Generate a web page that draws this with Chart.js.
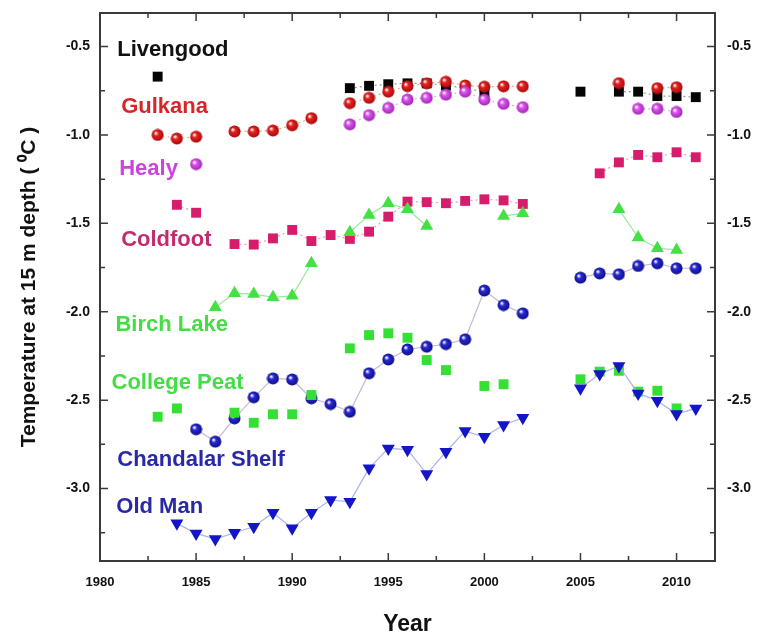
<!DOCTYPE html>
<html lang="en">
<head>
  <title>Permafrost temperature</title>
  <meta charset="UTF-8">
  <script src="https://cdn.jsdelivr.net/npm/chart.js"></script>
  <style>
    body { margin: 0; background: #fff; }
  </style>
</head>
<body>
  <canvas id="tempChart" width="767" height="640"></canvas>

  <script>
    // tick labels
    const yearTicks = [1980, 1985, 1990, 1995, 2000, 2005, 2010];
    const tempTicks = [-3.0, -2.5, -2.0, -1.5, -1.0, -0.5];

    // station data (years + temperature at 15 m)
    const livengoodYears = [1983, 1993, 1994, 1995, 1996, 1997, 1998, 1999, 2000, 2005, 2007, 2008, 2009, 2010, 2011];
    const livengoodTemps = [-0.67, -0.735, -0.722, -0.713, -0.708, -0.708, -0.72, -0.735, -0.758, -0.755, -0.755, -0.755, -0.78, -0.78, -0.786];

    const gulkanaYears = [1983, 1984, 1985, 1987, 1988, 1989, 1990, 1991, 1993, 1994, 1995, 1996, 1997, 1998, 1999, 2000, 2001, 2002, 2007, 2009, 2010];
    const gulkanaTemps = [-1.0, -1.02, -1.01, -0.98, -0.98, -0.975, -0.945, -0.905, -0.82, -0.79, -0.755, -0.724, -0.708, -0.699, -0.72, -0.727, -0.725, -0.725, -0.707, -0.735, -0.73];

    const healyYears = [1985, 1993, 1994, 1995, 1996, 1997, 1998, 1999, 2000, 2001, 2002, 2008, 2009, 2010];
    const healyTemps = [-1.165, -0.94, -0.888, -0.847, -0.8, -0.79, -0.772, -0.755, -0.8, -0.824, -0.843, -0.852, -0.852, -0.87];

    const coldfootYears = [1984, 1985, 1987, 1988, 1989, 1990, 1991, 1992, 1993, 1994, 1995, 1996, 1997, 1998, 1999, 2000, 2001, 2002, 2006, 2007, 2008, 2009, 2010, 2011];
    const coldfootTemps = [-1.395, -1.44, -1.617, -1.62, -1.585, -1.537, -1.6, -1.566, -1.588, -1.547, -1.462, -1.377, -1.38, -1.386, -1.373, -1.364, -1.37, -1.39, -1.217, -1.155, -1.113, -1.126, -1.098, -1.126];

    const birchYears = [1986, 1987, 1988, 1989, 1990, 1991, 1993, 1994, 1995, 1996, 1997, 2001, 2002, 2007, 2008, 2009, 2010];
    const birchTemps = [-1.975, -1.896, -1.9, -1.918, -1.91, -1.726, -1.55, -1.452, -1.386, -1.42, -1.515, -1.458, -1.443, -1.42, -1.58, -1.641, -1.65];

    const collegeYears = [1983, 1984, 1987, 1988, 1989, 1990, 1991, 1993, 1994, 1995, 1996, 1997, 1998, 2000, 2001, 2005, 2006, 2007, 2008, 2009, 2010];
    const collegeTemps = [-2.594, -2.547, -2.571, -2.628, -2.58, -2.58, -2.471, -2.207, -2.132, -2.122, -2.147, -2.273, -2.33, -2.42, -2.41, -2.382, -2.339, -2.334, -2.452, -2.447, -2.547];

    const chandalarYears = [1985, 1986, 1987, 1988, 1989, 1990, 1991, 1992, 1993, 1994, 1995, 1996, 1997, 1998, 1999, 2000, 2001, 2002, 2005, 2006, 2007, 2008, 2009, 2010, 2011];
    const chandalarTemps = [-2.665, -2.735, -2.603, -2.484, -2.377, -2.383, -2.49, -2.522, -2.566, -2.348, -2.27, -2.213, -2.198, -2.183, -2.156, -1.88, -1.962, -2.009, -1.807, -1.783, -1.788, -1.741, -1.726, -1.754, -1.754];

    const oldManYears = [1984, 1985, 1986, 1987, 1988, 1989, 1990, 1991, 1992, 1993, 1994, 1995, 1996, 1997, 1998, 1999, 2000, 2001, 2002, 2005, 2006, 2007, 2008, 2009, 2010, 2011];
    const oldManTemps = [-3.197, -3.254, -3.286, -3.25, -3.216, -3.137, -3.225, -3.137, -3.065, -3.075, -2.886, -2.773, -2.78, -2.918, -2.792, -2.675, -2.707, -2.641, -2.6, -2.433, -2.352, -2.307, -2.462, -2.503, -2.579, -2.547];

    function pairs(years, temps) {
      return years.map((yr, i) => ({ x: yr, y: temps[i] }));
    }

    // shaded ball marker like the original plot
    function ball(color, dark) {
      const c = document.createElement('canvas');
      c.width = 13; c.height = 13;
      const g = c.getContext('2d');
      const grad = g.createRadialGradient(4.5, 4.5, 0.5, 6.5, 6.5, 6.5);
      grad.addColorStop(0, '#ffffff');
      grad.addColorStop(0.3, color);
      grad.addColorStop(1, dark);
      g.fillStyle = grad;
      g.beginPath();
      g.arc(6.5, 6.5, 6, 0, Math.PI * 2);
      g.fill();
      return c;
    }

    function series(label, years, temps, marker, color, line, dashed, order) {
      return {
        label: label,
        data: pairs(years, temps),
        pointStyle: marker.style,
        pointRadius: marker.radius,
        pointRotation: marker.rotation || 0,
        pointBackgroundColor: color,
        pointBorderColor: color,
        pointBorderWidth: 0,
        borderColor: line || 'transparent',
        borderWidth: 1.2,
        borderDash: dashed ? [2, 3] : [],
        showLine: !!line,
        spanGaps: 1.5,
        order: order
      };
    }

    const square = { style: 'rect', radius: 7 };
    const upTri = { style: 'triangle', radius: 7.5 };
    const downTri = { style: 'triangle', radius: 7.5, rotation: 180 };

    const datasets = [
      series('Livengood', livengoodYears, livengoodTemps, square, '#050505', '#999999', true, 8),
      series('Gulkana', gulkanaYears, gulkanaTemps, { style: ball('#e82222', '#a00808'), radius: 6 }, '#e02020', '#f0a878', true, 6),
      series('Healy', healyYears, healyTemps, { style: ball('#dd55ee', '#9a20b0'), radius: 6 }, '#d050e8', '#e6a8f0', true, 5),
      series('Coldfoot', coldfootYears, coldfootTemps, square, '#d81c6c', '#e89ab8', true, 7),
      series('Birch Lake', birchYears, birchTemps, upTri, '#44e044', '#9ae69a', false, 3),
      series('College Peat', collegeYears, collegeTemps, square, '#33e033', null, false, 2),
      series('Chandalar Shelf', chandalarYears, chandalarTemps, { style: ball('#2a2ad8', '#0a0a80'), radius: 6 }, '#1818c0', '#c6b8d8', false, 4),
      series('Old Man', oldManYears, oldManTemps, downTri, '#1414c8', '#a8b4e8', false, 1)
    ];

    // station names written inside the plot (year, temperature of left/middle of text)
    const stationLabels = [
      { text: 'Livengood', x: 1980.9, y: -0.52, color: '#111111' },
      { text: 'Gulkana', x: 1981.1, y: -0.84, color: '#d42828' },
      { text: 'Healy', x: 1981.0, y: -1.19, color: '#cc44dd' },
      { text: 'Coldfoot', x: 1981.1, y: -1.595, color: '#c22c6c' },
      { text: 'Birch Lake', x: 1980.8, y: -2.075, color: '#44dd44' },
      { text: 'College Peat', x: 1980.6, y: -2.403, color: '#44dd44' },
      { text: 'Chandalar Shelf', x: 1980.9, y: -2.84, color: '#2828a8' },
      { text: 'Old Man', x: 1980.85, y: -3.105, color: '#2828a8' }
    ];

    // frame, inward ticks and the station names
    const framePlugin = {
      id: 'frame',
      afterDraw(chart) {
        const ctx = chart.ctx;
        const a = chart.chartArea;
        const xs = chart.scales.x, ys = chart.scales.y;
        ctx.save();
        ctx.strokeStyle = '#3a3a3a';
        ctx.lineWidth = 2;
        ctx.strokeRect(a.left, a.top, a.right - a.left, a.bottom - a.top);
        ctx.lineWidth = 1.5;
        ctx.beginPath();
        for (let v = 1980; v <= 2012; v += 2.5) {
          const px = xs.getPixelForValue(v);
          const len = (v % 5 === 0) ? 8 : 5;
          ctx.moveTo(px, a.bottom); ctx.lineTo(px, a.bottom - len);
          ctx.moveTo(px, a.top); ctx.lineTo(px, a.top + len);
        }
        for (let v = -3.25; v <= -0.5; v += 0.25) {
          const py = ys.getPixelForValue(v);
          const len = (Math.abs(v * 2 - Math.round(v * 2)) < 1e-6) ? 8 : 5;
          ctx.moveTo(a.left, py); ctx.lineTo(a.left + len, py);
          ctx.moveTo(a.right, py); ctx.lineTo(a.right - len, py);
        }
        ctx.stroke();

        ctx.font = 'bold 22px "Liberation Sans", Arial, sans-serif';
        ctx.textAlign = 'left';
        ctx.textBaseline = 'middle';
        stationLabels.forEach(l => {
          ctx.fillStyle = l.color;
          ctx.fillText(l.text, xs.getPixelForValue(l.x), ys.getPixelForValue(l.y));
        });
        ctx.restore();
      }
    };

    const tickFont = { family: '"Liberation Sans", Arial, sans-serif', size: 13, weight: 'bold' };
    const yTickFont = { family: '"Liberation Sans", Arial, sans-serif', size: 14, weight: 'bold' };
    const yMin = -3.41, yMax = -0.31;

    // fixed axis boxes so the plot frame lands where the original one is
    function fixBox(w, h) {
      return s => {
        if (w) s.width = w;
        if (h) s.height = h;
        s.paddingTop = 0; s.paddingBottom = 0;
        s.paddingLeft = 0; s.paddingRight = 0;
      };
    }

    new Chart(document.getElementById('tempChart'), {
      type: 'line',
      data: { datasets: datasets },
      plugins: [framePlugin],
      options: {
        responsive: false,
        animation: false,
        layout: { padding: { top: 13, left: 0, right: 0, bottom: 0 } },
        plugins: {
          legend: { display: false },
          tooltip: { enabled: false }
        },
        scales: {
          x: {
            type: 'linear',
            min: 1980,
            max: 2012,
            grid: { display: false },
            border: { display: false },
            afterBuildTicks: s => { s.ticks = yearTicks.map(v => ({ value: v })); },
            afterFit: fixBox(0, 79),
            ticks: { font: tickFont, color: '#111', padding: 6, maxRotation: 0, callback: v => String(v) },
            title: {
              display: true,
              text: 'Year',
              color: '#111',
              font: { family: '"Liberation Sans", Arial, sans-serif', size: 23, weight: 'bold' },
              padding: { top: 0, bottom: 2 }
            }
          },
          y: {
            type: 'linear',
            position: 'left',
            min: yMin,
            max: yMax,
            grid: { display: false },
            border: { display: false },
            afterBuildTicks: s => { s.ticks = tempTicks.map(v => ({ value: v })); },
            afterFit: fixBox(100, 0),
            ticks: { font: yTickFont, color: '#111', padding: 2, callback: v => v.toFixed(1) },
            title: {
              display: true,
              text: 'Temperature at 15 m depth ( \u2070C )',
              color: '#111',
              font: { family: '"Liberation Sans", Arial, sans-serif', size: 21, weight: 'bold' },
              padding: { top: 17, bottom: 0 }
            }
          },
          y2: {
            type: 'linear',
            position: 'right',
            min: yMin,
            max: yMax,
            grid: { display: false },
            border: { display: false },
            afterBuildTicks: s => { s.ticks = tempTicks.map(v => ({ value: v })); },
            afterFit: fixBox(52, 0),
            ticks: { font: yTickFont, color: '#111', padding: 4, callback: v => v.toFixed(1) }
          }
        }
      }
    });
  </script>
</body>
</html>
